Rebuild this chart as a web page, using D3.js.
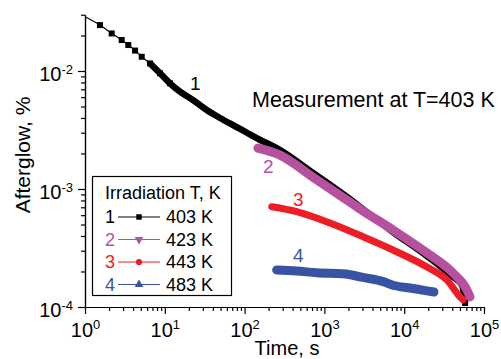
<!DOCTYPE html>
<html>
<head>
<meta charset="utf-8">
<script src="https://cdn.jsdelivr.net/npm/d3@7.9.0/dist/d3.min.js"></script>
<style>
  body { margin: 0; background: #fff; }
  svg { display: block; }
  text { font-family: "Liberation Sans", Arial, sans-serif; }
</style>
</head>
<body>
<div id="chart"></div>
<script>
// ---------- DATA ----------
// [time s, afterglow %]
const curve1 = [
  [1, 0.0288], [1.54, 0.0245], [2.16, 0.0208], [2.88, 0.0183], [3.49, 0.0166],
  [4.24, 0.0149], [5.14, 0.0132], [6.53, 0.0116], [8.71, 0.00957], [11.6, 0.00787],
  [15.5, 0.00668], [22.5, 0.00568], [33.5, 0.00467], [49.2, 0.0040], [79.6, 0.00335],
  [106, 0.00301], [142, 0.0027], [278, 0.00214], [720, 0.00137], [1900, 0.000861],
  [3390, 0.000638], [7240, 0.000432], [19300, 0.00027], [40900, 0.00018],
  [53000, 0.000153], [58000, 0.000108]
];
const curve2 = [
  [147, 0.00222], [278, 0.00194], [720, 0.00126], [1910, 0.000807], [2790, 0.000678],
  [7240, 0.00045], [19300, 0.000287], [40900, 0.000194], [61200, 0.000139], [66800, 0.000122]
];
const curve3 = [
  [219, 0.000708], [450, 0.000643], [1175, 0.000515], [3050, 0.000394], [7240, 0.000304],
  [19300, 0.000218], [34400, 0.000169], [50000, 0.000122], [54600, 0.000115]
];
const curve4 = [
  [252, 0.000206], [450, 0.000202], [801, 0.000195], [1726, 0.000191], [3050, 0.000178],
  [5470, 0.000164], [7240, 0.000153], [11800, 0.000145], [19300, 0.000137], [23600, 0.000134]
];

const seriesNames = ['1', '2', '3', '4'];
const seriesTemps = ['403 K', '423 K', '443 K', '483 K'];
const seriesColors = ['#000000', '#b5519e', '#ee1c25', '#3953a4'];

const timeTicks = [1, 10, 100, 1000, 10000, 100000];
const timeExp = ['0', '1', '2', '3', '4', '5'];
const glowTicks = [1e-4, 1e-3, 1e-2];
const glowExp = ['-4', '-3', '-2'];

// ---------- SETUP ----------
const width = 501;
const height = 359;

const svg = d3.select('#chart').append('svg')
  .attr('width', width)
  .attr('height', height);

const x = d3.scaleLog().domain([1, 1e5]).range([85, 484]);
const y = d3.scaleLog().domain([1e-4, 3e-2]).range([307, 14.7]);

// minor ticks
const xMinor = [];
for (let d = 0; d < 5; d++) for (let k = 2; k <= 9; k++) xMinor.push(k * 10 ** d);
const yMinor = [];
for (let d = -4; d < -1; d++) for (let k = 2; k <= 9; k++) {
  const v = k * 10 ** d;
  if (v <= 3e-2 * 1.0001) yMinor.push(v);
}

// ---------- AXES ----------
function styleAxis(g) {
  g.selectAll('path, line').attr('stroke', '#000').attr('stroke-width', 1.2);
}

svg.append('g')
  .attr('transform', 'translate(0,307)')
  .call(d3.axisBottom(x).tickValues(xMinor).tickSize(4).tickSizeOuter(0).tickFormat(''))
  .call(styleAxis);

const xMajor = svg.append('g')
  .attr('transform', 'translate(0,307)')
  .call(d3.axisBottom(x).tickValues(timeTicks).tickSize(7).tickSizeOuter(0).tickFormat(''))
  .call(styleAxis);
xMajor.selectAll('.tick text').remove();
xMajor.selectAll('.tick').each(function (d, i) {
  const t = d3.select(this).append('text')
    .attr('y', 30)
    .attr('text-anchor', 'middle')
    .attr('fill', '#000')
    .style('font-size', '20px');
  t.append('tspan').text('10');
  t.append('tspan').attr('dy', -8).style('font-size', '13px').text(timeExp[i]);
});

svg.append('g')
  .attr('transform', 'translate(85,0)')
  .call(d3.axisLeft(y).tickValues(yMinor).tickSize(4).tickSizeOuter(0).tickFormat(''))
  .call(styleAxis);

const yMajor = svg.append('g')
  .attr('transform', 'translate(85,0)')
  .call(d3.axisLeft(y).tickValues(glowTicks).tickSize(7).tickSizeOuter(0).tickFormat(''))
  .call(styleAxis);
yMajor.selectAll('.tick text').remove();
yMajor.selectAll('.tick').each(function (d, i) {
  const t = d3.select(this).append('text')
    .attr('x', -12)
    .attr('y', 9)
    .attr('text-anchor', 'end')
    .attr('fill', '#000')
    .style('font-size', '20px');
  t.append('tspan').text('10');
  t.append('tspan').attr('dy', -7).style('font-size', '13px').text(glowExp[i]);
});

// axis titles
svg.append('text')
  .attr('transform', 'translate(30,155) rotate(-90)')
  .attr('text-anchor', 'middle')
  .style('font-size', '21px')
  .text('Afterglow, %');

svg.append('text')
  .attr('x', 287).attr('y', 355)
  .attr('text-anchor', 'middle')
  .style('font-size', '20px')
  .text('Time, s');

// ---------- CURVES ----------
const line = d3.line()
  .x((d) => x(d[0]))
  .y((d) => y(d[1]))
  .curve(d3.curveMonotoneX);

const plot = svg.append('g');

// curve 1: thin line with squares where sparse, dense band later
plot.append('path')
  .datum(curve1)
  .attr('d', line)
  .attr('fill', 'none')
  .attr('stroke', seriesColors[0])
  .attr('stroke-width', 1.2);

plot.append('path')
  .datum(curve1.filter((d) => d[0] >= 6.5))
  .attr('d', line)
  .attr('fill', 'none')
  .attr('stroke', seriesColors[0])
  .attr('stroke-width', 6.5)
  .attr('stroke-linejoin', 'round');

plot.selectAll('.sq')
  .data(curve1.filter((d, i) => i > 0 && d[0] <= 12).concat([curve1[curve1.length - 1]]))
  .join('rect')
  .attr('x', (d) => x(d[0]) - 3)
  .attr('y', (d) => y(d[1]) - 3)
  .attr('width', 6)
  .attr('height', 6)
  .attr('fill', seriesColors[0]);

// curve 3, 4, then 2 on top
[[curve3, 2, 7], [curve4, 3, 9], [curve2, 1, 9]].forEach(([data, ci, w]) => {
  plot.append('path')
    .datum(data)
    .attr('d', line)
    .attr('fill', 'none')
    .attr('stroke', seriesColors[ci])
    .attr('stroke-width', w)
    .attr('stroke-linecap', 'round')
    .attr('stroke-linejoin', 'round');
});

// curve labels
const curveLabels = [
  { text: '1', x: 190, y: 90, c: 0 },
  { text: '2', x: 263, y: 173, c: 1 },
  { text: '3', x: 293, y: 206, c: 2 },
  { text: '4', x: 293, y: 262, c: 3 },
];
svg.selectAll('.clabel')
  .data(curveLabels)
  .join('text')
  .attr('x', (d) => d.x)
  .attr('y', (d) => d.y)
  .attr('fill', (d) => seriesColors[d.c])
  .style('font-size', '19px')
  .text((d) => d.text);

svg.append('text')
  .attr('x', 252).attr('y', 107)
  .style('font-size', '21.5px')
  .text('Measurement at T=403 K');

// ---------- LEGEND ----------
const legend = svg.append('g');
legend.append('rect')
  .attr('x', 92.5).attr('y', 176.5)
  .attr('width', 139).attr('height', 119)
  .attr('fill', '#fff')
  .attr('stroke', '#000')
  .attr('stroke-width', 1.2);

legend.append('text')
  .attr('x', 105).attr('y', 199)
  .style('font-size', '18px')
  .text('Irradiation T, K');

const symbols = [
  d3.symbol().type(d3.symbolSquare).size(30),
  d3.symbol().type(d3.symbolTriangle).size(32),
  d3.symbol().type(d3.symbolCircle).size(30),
  d3.symbol().type(d3.symbolTriangle).size(32),
];
const rowBase = [223, 245.5, 268, 290.5];

seriesNames.forEach((name, i) => {
  const by = rowBase[i];
  const cy = by - 6;
  legend.append('text')
    .attr('x', 105).attr('y', by)
    .attr('fill', seriesColors[i])
    .style('font-size', '18px')
    .text(name);
  legend.append('line')
    .attr('x1', 118).attr('x2', 160)
    .attr('y1', cy).attr('y2', cy)
    .attr('stroke', seriesColors[i])
    .attr('stroke-width', 1.2);
  legend.append('path')
    .attr('d', symbols[i]())
    .attr('transform', `translate(139,${cy})` + (i === 1 ? ' rotate(180)' : ''))
    .attr('fill', seriesColors[i]);
  legend.append('text')
    .attr('x', 166).attr('y', by)
    .style('font-size', '18px')
    .text(seriesTemps[i]);
});
</script>
</body>
</html>
